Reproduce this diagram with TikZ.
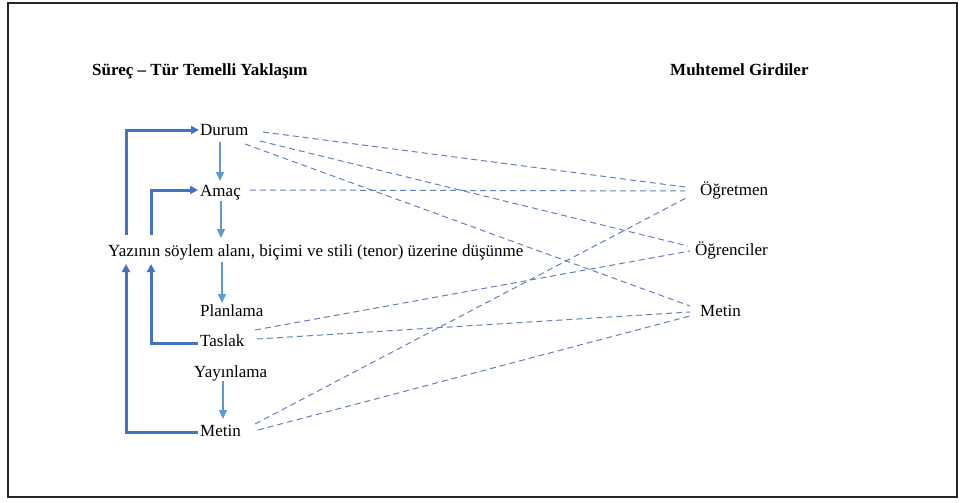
\documentclass[tikz,border=0pt]{standalone}
\usepackage{fontspec}
\setmainfont{Liberation Serif}
\usetikzlibrary{calc,arrows.meta}
\definecolor{lightblue}{RGB}{91,155,213}
\definecolor{darkblue}{RGB}{68,114,196}
\definecolor{dashblue}{RGB}{100,128,188}
\begin{document}
\begin{tikzpicture}[x=1pt,y=-1pt,
  lbl/.style={anchor=base west,inner sep=0pt,font=\fontsize{17}{20}\selectfont},
  hdr/.style={anchor=base west,inner sep=0pt,font=\fontsize{17}{20}\selectfont\bfseries},
  lbarrow/.style={draw=lightblue,line width=1.1pt,-{Triangle[length=9pt,width=8pt]}},
  dbarrow/.style={draw=darkblue,line width=3pt,-{Triangle[length=8pt,width=8pt]}},
  dashconn/.style={draw=dashblue,line width=1pt,dash pattern=on 6pt off 4pt}]
\useasboundingbox (0,0) rectangle (961,503);
\draw[line width=2pt,black!85] (8,3) rectangle (957,497);
% headers
\node[hdr] (h1) at (92,75) {Süreç – Tür Temelli Yaklaşım};
\node[hdr] (h2) at (670,75) {Muhtemel Girdiler};
% left column
\node[lbl] (durum) at (200,135) {Durum};
\node[lbl] (amac) at (200,196) {Amaç};
\node[lbl] (yaz) at (108,256) {Yazının söylem alanı, biçimi ve stili (tenor) üzerine düşünme};
\node[lbl] (plan) at (200,316) {Planlama};
\node[lbl] (taslak) at (200,346) {Taslak};
\node[lbl] (yayin) at (194,377) {Yayınlama};
\node[lbl] (metinL) at (200,436) {Metin};
% right column
\node[lbl] (ogretmen) at (700,195) {Öğretmen};
\node[lbl] (ogrenci) at (695,255) {Öğrenciler};
\node[lbl] (metinR) at (700,316) {Metin};
% light blue arrows
\draw[lbarrow] ($(durum.base west)+(20,7)$) -- ($(amac.base west)+(20,-15)$);
\draw[lbarrow] ($(amac.base west)+(21,5)$) -- ($(yaz.base west)+(113,-18)$);
\draw[lbarrow] ($(yaz.base west)+(114,6)$) -- ($(plan.base west)+(22,-13)$);
\draw[lbarrow] ($(yayin.base west)+(29,4)$) -- ($(metinL.base west)+(23,-17)$);
% dark blue loops
\draw[dbarrow] ($(yaz.base west)+(18,-21)$) |- ($(durum.base west)+(-1,-5)$);
\draw[dbarrow] ($(metinL.base west)+(-2,-4)$) -| ($(yaz.base west)+(18,8)$);
\draw[dbarrow] ($(yaz.base west)+(43,-21)$) |- ($(amac.base west)+(-2,-6)$);
\draw[dbarrow] ($(taslak.base west)+(-2,-3)$) -| ($(yaz.base west)+(43,8)$);
% dashed connectors
\draw[dashconn] ($(durum.base west)+(63,-3)$) -- ($(ogretmen.base west)+(-15,-8)$);
\draw[dashconn] ($(durum.base west)+(60,6)$) -- ($(ogrenci.base west)+(-7,-9)$);
\draw[dashconn] ($(durum.base west)+(45,9)$) -- ($(metinR.base west)+(-10,-10)$);
\draw[dashconn] ($(amac.base west)+(50,-6)$) -- ($(ogretmen.base west)+(-15,-4)$);
\draw[dashconn] ($(taslak.base west)+(55,-16)$) -- ($(ogrenci.base west)+(-5,-4)$);
\draw[dashconn] ($(taslak.base west)+(57,-7)$) -- ($(metinR.base west)+(-10,-4)$);
\draw[dashconn] ($(metinL.base west)+(55,-12)$) -- ($(ogretmen.base west)+(-12,2)$);
\draw[dashconn] ($(metinL.base west)+(58,-6)$) -- ($(metinR.base west)+(-10,0)$);
\end{tikzpicture}
\end{document}
